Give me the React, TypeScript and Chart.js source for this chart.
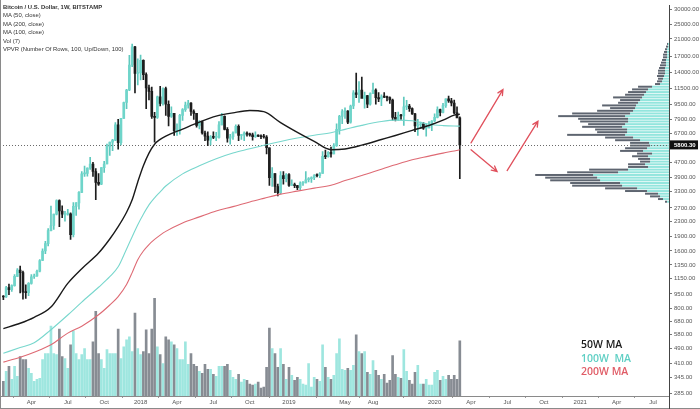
import React, { useEffect, useRef } from 'react';
import { Chart, registerables } from 'chart.js';

Chart.register(...registerables);

// Weekly candles, week 0 = 23 Jan 2017 ... week 163 = 9 Mar 2020 (Bitstamp, BTC/USD)
const opens = [
  920, 915, 1025, 1000, 1050, 1175, 1270, 1230, 970, 965,
  1080, 1170, 1180, 1250, 1425, 1600, 1750, 2050, 2180, 2500,
  2950, 2600, 2480, 2500, 2510, 1950, 2750, 2870, 3260, 4080,
  4100, 4380, 4600, 4200, 3680, 3600, 4400, 4600, 5700, 6000,
  6150, 7400, 5950, 8000, 9700, 11300, 15300, 19100, 13800, 13880,
  16200, 13600, 11600, 11100, 8200, 8100, 10400, 9600, 11500, 9500,
  8200, 8500, 6900, 7000, 8300, 8900, 9400, 9650, 8700, 8500,
  7350, 7700, 6700, 6450, 6150, 6400, 6350, 6350, 7400, 8200,
  7000, 6300, 6400, 6700, 7270, 6500, 6520, 6700, 6600, 6550,
  6400, 6500, 6450, 6400, 6380, 5600, 3900, 4100, 3500, 3250,
  4000, 3850, 4050, 3550, 3560, 3540, 3450, 3650, 3660, 3800,
  3850, 3900, 4000, 3990, 4100, 5050, 5030, 5300, 5200, 5750,
  7000, 8200, 8700, 8750, 7650, 9300, 10900, 10700, 11300, 10200,
  10550, 9500, 10800, 11300, 10300, 10150, 10400, 10350, 10300, 10000,
  8100, 7900, 8300, 8250, 9200, 9300, 9000, 8450, 7300, 7400,
  7500, 7100, 7150, 7400, 7750, 8100, 8900, 8600, 9350, 10150,
  9900, 9650, 8550, 8050,
];
const highs = [
  930, 1040, 1070, 1060, 1200, 1290, 1330, 1255, 1060, 1090,
  1200, 1210, 1270, 1440, 1640, 1800, 2100, 2760, 2500, 2980,
  2980, 2770, 2590, 2650, 2540, 2880, 2880, 3290, 4190, 4480,
  4390, 4980, 4700, 4350, 4100, 4400, 4750, 5850, 6000, 6200,
  7600, 7900, 8000, 9750, 11400, 17200, 19700, 19200, 16500, 17250,
  16300, 13900, 12000, 11700, 8600, 10500, 11800, 11600, 11700, 9900,
  9200, 8500, 7500, 8400, 9000, 9750, 9950, 9700, 8880, 8500,
  7800, 7750, 6850, 6800, 6500, 6800, 6750, 7700, 8500, 8250,
  7150, 6600, 6800, 7400, 7400, 6600, 6800, 6800, 6700, 6700,
  6800, 6550, 6550, 6600, 6500, 5600, 4400, 4100, 3600, 4200,
  4200, 4100, 4100, 3800, 3650, 3550, 3700, 3720, 4200, 3900,
  3930, 4050, 4080, 4150, 5350, 5450, 5350, 5650, 5900, 7500,
  8300, 8900, 9100, 8800, 9400, 11200, 13880, 12500, 13200, 11000,
  10600, 10900, 12300, 11450, 10950, 10650, 10950, 10500, 10400, 10100,
  8600, 8650, 8400, 10350, 9950, 9500, 9100, 8500, 7900, 7650,
  7600, 7500, 7700, 7800, 8450, 9200, 8950, 9600, 10150, 10500,
  10200, 10000, 9200, 8150,
];
const lows = [
  885, 910, 940, 980, 1045, 1170, 960, 890, 900, 930,
  1070, 1145, 1175, 1240, 1420, 1550, 1700, 2040, 2080, 2480,
  2150, 2400, 2300, 2470, 1840, 1900, 2460, 2660, 3250, 3950,
  3970, 4300, 3950, 2980, 3550, 3580, 4150, 4600, 5100, 5400,
  6100, 5500, 5800, 8000, 9000, 11200, 15000, 10900, 12000, 12750,
  12800, 9000, 10000, 8000, 6000, 8000, 9300, 9400, 8300, 7300,
  8100, 6500, 6500, 6600, 7800, 8700, 9050, 8300, 7900, 7200,
  7050, 6600, 6100, 5750, 5800, 6250, 6100, 6300, 7400, 6950,
  6000, 5850, 6200, 6700, 6100, 6200, 6100, 6450, 6450, 6150,
  6350, 6400, 6250, 6300, 5200, 3550, 3500, 3250, 3120, 3200,
  3600, 3700, 3500, 3550, 3450, 3370, 3350, 3550, 3650, 3700,
  3680, 3800, 3930, 3900, 4100, 4900, 5000, 5000, 5200, 5700,
  6600, 7500, 8000, 7500, 7550, 9000, 10300, 9700, 10900, 9050,
  9100, 9400, 10800, 9500, 9800, 9350, 10300, 9900, 9600, 7800,
  7750, 7800, 7900, 7350, 8900, 8700, 8400, 6800, 6500, 7100,
  7000, 6450, 7100, 6900, 7700, 8050, 8250, 8550, 9150, 9700,
  9300, 8450, 8350, 3850,
];
const closes = [
  915, 1025, 1000, 1050, 1175, 1270, 1230, 970, 965, 1080,
  1170, 1180, 1250, 1425, 1600, 1750, 2050, 2180, 2500, 2950,
  2600, 2500, 2500, 2510, 1950, 2750, 2870, 3260, 4080, 4100,
  4380, 4600, 4200, 3680, 3600, 4400, 4600, 5700, 6000, 6150,
  7400, 5950, 8000, 9700, 11300, 15300, 19100, 13800, 13880, 16200,
  13600, 11600, 11100, 8200, 8100, 10400, 9600, 11500, 9500, 8200,
  8500, 6900, 7000, 8300, 8900, 9400, 9650, 8700, 8500, 7350,
  7700, 6700, 6450, 6150, 6400, 6350, 6350, 7400, 8200, 7000,
  6300, 6400, 6700, 7270, 6500, 6520, 6700, 6600, 6550, 6400,
  6500, 6450, 6400, 6380, 5600, 3900, 4100, 3500, 3250, 4000,
  3850, 4050, 3550, 3560, 3540, 3450, 3650, 3660, 3800, 3850,
  3900, 4000, 3990, 4100, 5050, 5030, 5300, 5200, 5750, 7000,
  8200, 8700, 8750, 7650, 9300, 10900, 10700, 11300, 10200, 10550,
  9500, 10800, 11300, 10300, 10150, 10400, 10350, 10300, 10000, 8100,
  7900, 8300, 8250, 9200, 9300, 9000, 8450, 7300, 7400, 7500,
  7100, 7150, 7400, 7750, 8100, 8900, 8600, 9350, 10150, 9900,
  9650, 8550, 8050, 5800.3,
];
const volumes = [
  15, 25, 30, 17, 30, 20, 40, 37, 37, 28,
  23, 15, 17, 18, 37, 43, 43, 71, 43, 42,
  68, 40, 38, 28, 52, 66, 43, 37, 42, 48,
  37, 37, 55, 86, 43, 37, 28, 47, 43, 43,
  43, 68, 38, 50, 57, 60, 45, 84, 48, 42,
  45, 67, 43, 68, 99, 50, 42, 33, 60, 57,
  55, 52, 48, 37, 37, 55, 32, 43, 32, 30,
  25, 23, 32, 27, 27, 22, 20, 30, 30, 30,
  32, 26, 19, 17, 22, 14, 17, 16, 12, 11,
  12, 14, 8, 9, 29, 69, 48, 43, 29, 48,
  32, 17, 29, 21, 16, 19, 17, 12, 11, 33,
  9, 19, 17, 15, 52, 29, 19, 17, 21, 43,
  58, 27, 26, 28, 26, 31, 62, 45, 43, 45,
  24, 22, 36, 26, 21, 17, 22, 13, 16, 41,
  22, 19, 18, 47, 25, 16, 12, 24, 31, 12,
  12, 17, 11, 11, 24, 26, 16, 20, 17, 21,
  17, 21, 17, 56,
];

// Moving averages (week index -> value)
const maWeeks = [0, 6, 11, 17, 23, 28, 34, 38, 41, 44, 46, 48, 50, 52, 54, 56, 58, 64, 70, 76, 82, 88, 93, 99, 105, 111, 117, 122, 128, 135, 140, 146, 152, 157, 161, 163];
const ma50 = [623, 665, 715, 810, 1080, 1290, 1560, 1850, 2150, 2560, 2980, 3700, 4500, 5250, 5850, 6200, 6450, 7030, 7650, 8220, 8560, 8800, 8680, 7600, 6750, 6050, 5470, 5520, 5780, 6190, 6500, 6920, 7340, 7830, 8320, 8414];
const ma100 = [462, 495, 525, 615, 735, 860, 1030, 1170, 1320, 1640, 1900, 2200, 2500, 2800, 3050, 3280, 3520, 4080, 4500, 4900, 5250, 5530, 5780, 6050, 6300, 6520, 6720, 7000, 7350, 7700, 7830, 7780, 7450, 7330, 7290, 7287];
const ma200 = [415, 440, 468, 512, 590, 642, 737, 830, 920, 1065, 1230, 1440, 1600, 1730, 1840, 1940, 2030, 2250, 2420, 2600, 2740, 2900, 3030, 3190, 3310, 3430, 3555, 3760, 4000, 4320, 4560, 4840, 5060, 5250, 5390, 5464];

// Volume profile rows (bottom -> top), up / down volume
const vpUp = [
  2, 6, 9, 11, 22, 32, 47, 49, 69, 72,
  76, 51, 41, 21, 24, 19, 19, 21, 17, 26,
  22, 19, 20, 29, 36, 44, 42, 42, 47, 44,
  41, 41, 44, 39, 36, 34, 33, 31, 29, 27,
  25, 23, 21, 17, 9, 7, 6, 5, 4, 4,
  4, 3, 3, 3, 2, 2, 2, 2, 1, 1,
];
const vpDown = [
  2, 5, 10, 13, 22, 32, 50, 50, 50, 52,
  58, 51, 39, 20, 17, 10, 12, 16, 15, 23,
  22, 20, 19, 25, 28, 58, 30, 32, 40, 37,
  48, 50, 67, 58, 36, 25, 34, 20, 20, 29,
  19, 18, 16, 14, 5, 5, 5, 7, 7, 7,
  6, 6, 5, 4, 4, 4, 3, 2, 2, 1,
];
const vpLow = 2850;
const vpHigh = 20000;

const priceTicks = [30000, 25000, 21000, 17000, 14000, 11500, 9500, 7900, 6700, 4700, 3900, 3300, 2700, 2300, 1900, 1600, 1350, 1150, 950, 800, 680, 580, 490, 410, 345, 285];
const xTickWeeks = [10, 23, 36, 49, 62, 75, 88, 102, 122, 132, 154, 167, 180, 193, 206, 219, 232];
const xTickLabels = ['Apr', 'Jul', 'Oct', '2018', 'Apr', 'Jul', 'Oct', '2019', 'May', 'Aug', '2020', 'Apr', 'Jul', 'Oct', '2021', 'Apr', 'Jul'];
const lastPrice = 5800.3;

// Hand-drawn arrows (week, price)
const arrowFromWeek = [167, 167, 179.9];
const arrowFromPrice = [5943, 5464, 4248];
const arrowToWeek = [178.4, 176.3, 190.9];
const arrowToPrice = [11355, 4198, 7737];

const legendTop = ['Bitcoin / U.S. Dollar, 1W, BITSTAMP', 'MA (50, close)', 'MA (200, close)', 'MA (100, close)', 'Vol (7)', 'VPVR (Number Of Rows, 100, Up/Down, 100)'];

const UP = '#6fd5ca';
const DOWN = '#1d1d1d';
const VOL_UP = 'rgba(126, 222, 212, 0.75)';
const VOL_DOWN = '#878c93';
const VP_UP = 'rgba(120, 222, 212, 0.8)';
const VP_DOWN = 'rgba(72, 80, 92, 0.88)';
const RED = '#e0505c';

export default function App() {
  const ref = useRef<HTMLCanvasElement>(null);

  useEffect(() => {
    const canvas = ref.current;
    if (!canvas) return;
    const isUp = closes.map((c, i) => c >= opens[i]);
    const maxVol = Math.max(...volumes);

    const overlay = {
      id: 'overlay',
      beforeDatasetsDraw(chart: any) {
        const { ctx, chartArea, scales } = chart;
        const y = scales.y;
        const n = vpUp.length;
        const lr = Math.log(vpHigh / vpLow);
        const maxTot = Math.max(...vpUp.map((u, i) => u + vpDown[i]));
        const fullW = (chartArea.right - chartArea.left) * 0.2;
        ctx.save();
        for (let k = 0; k < n; k++) {
          const pLo = vpLow * Math.exp((lr * k) / n);
          const pHi = vpLow * Math.exp((lr * (k + 1)) / n);
          const yTop = y.getPixelForValue(pHi);
          const yBot = y.getPixelForValue(pLo);
          const h = Math.max(0.6, yBot - yTop - 0.7);
          const wu = (vpUp[k] / maxTot) * fullW;
          const wd = (vpDown[k] / maxTot) * fullW;
          ctx.fillStyle = VP_UP;
          ctx.fillRect(chartArea.right - wu, yTop, wu, h);
          ctx.fillStyle = VP_DOWN;
          ctx.fillRect(chartArea.right - wu - wd, yTop, wd, h);
        }
        const yl = Math.round(y.getPixelForValue(lastPrice)) + 0.5;
        ctx.strokeStyle = '#6a6a6a';
        ctx.lineWidth = 1;
        ctx.setLineDash([1, 2]);
        ctx.beginPath();
        ctx.moveTo(chartArea.left, yl);
        ctx.lineTo(chartArea.right, yl);
        ctx.stroke();
        ctx.restore();
      },
      afterDatasetsDraw(chart: any) {
        const { ctx, scales } = chart;
        ctx.save();
        ctx.strokeStyle = RED;
        ctx.lineWidth = 1.3;
        ctx.lineCap = 'round';
        for (let i = 0; i < arrowFromWeek.length; i++) {
          const x1 = scales.x.getPixelForValue(arrowFromWeek[i]);
          const y1 = scales.y.getPixelForValue(arrowFromPrice[i]);
          const x2 = scales.x.getPixelForValue(arrowToWeek[i]);
          const y2 = scales.y.getPixelForValue(arrowToPrice[i]);
          const a = Math.atan2(y2 - y1, x2 - x1);
          const L = 6;
          ctx.beginPath();
          ctx.moveTo(x1, y1);
          ctx.lineTo(x2, y2);
          ctx.moveTo(x2 - L * Math.cos(a - 0.45), y2 - L * Math.sin(a - 0.45));
          ctx.lineTo(x2, y2);
          ctx.lineTo(x2 - L * Math.cos(a + 0.45), y2 - L * Math.sin(a + 0.45));
          ctx.stroke();
        }
        ctx.restore();
      },
      afterDraw(chart: any) {
        const { ctx, chartArea, scales } = chart;
        ctx.save();
        ctx.strokeStyle = '#8a8a8a';
        ctx.lineWidth = 1;
        ctx.beginPath();
        ctx.moveTo(0.5, 0);
        ctx.lineTo(0.5, chart.height);
        ctx.moveTo(0, chart.height - 0.5);
        ctx.lineTo(chart.width, chart.height - 0.5);
        ctx.stroke();
        ctx.strokeStyle = '#444';
        ctx.beginPath();
        ctx.moveTo(Math.round(chartArea.right) + 0.5, chartArea.bottom);
        ctx.lineTo(Math.round(chartArea.right) + 0.5, chart.height);
        ctx.stroke();
        const yl = scales.y.getPixelForValue(lastPrice);
        ctx.fillStyle = '#111';
        ctx.fillRect(chartArea.right + 1, yl - 4.5, 28, 9);
        ctx.fillStyle = '#fff';
        ctx.font = 'bold 6px "Liberation Sans", Arial, sans-serif';
        ctx.textBaseline = 'middle';
        ctx.textAlign = 'left';
        ctx.fillText(lastPrice.toFixed(2), chartArea.right + 5, yl + 0.5);
        ctx.restore();
      },
    };

    const lineDs = (label: string, vals: number[], color: string, w: number) => ({
      type: 'line',
      label,
      data: maWeeks.map((wk, i) => ({ x: wk, y: vals[i] })),
      borderColor: color,
      borderWidth: w,
      pointRadius: 0,
      cubicInterpolationMode: 'monotone',
      yAxisID: 'y',
      order: 1,
    });

    const chart = new Chart(canvas, {
      type: 'bar',
      data: {
        datasets: [
          lineDs('MA 50', ma50, '#1a1a1a', 1.4),
          lineDs('MA 100', ma100, '#78d7cd', 1.1),
          lineDs('MA 200', ma200, '#de6a74', 1.1),
          {
            type: 'bar',
            label: 'body',
            data: opens.map((o, i) => ({ x: i, y: [o, closes[i]] })),
            backgroundColor: isUp.map((u) => (u ? UP : DOWN)),
            barThickness: 2,
            minBarLength: 1,
            grouped: false,
            yAxisID: 'y',
            order: 2,
          },
          {
            type: 'bar',
            label: 'wick',
            data: lows.map((l, i) => ({ x: i, y: [l, highs[i]] })),
            backgroundColor: isUp.map((u) => (u ? '#5fc9be' : DOWN)),
            barThickness: 1,
            grouped: false,
            yAxisID: 'y',
            order: 3,
          },
          {
            type: 'bar',
            label: 'volume',
            data: volumes.map((v, i) => ({ x: i, y: v })),
            backgroundColor: isUp.map((u) => (u ? VOL_UP : VOL_DOWN)),
            barThickness: 2,
            grouped: false,
            yAxisID: 'vol',
            order: 4,
          },
        ] as any,
      },
      options: {
        animation: false,
        responsive: false,
        devicePixelRatio: 1,
        layout: { padding: 0 },
        plugins: { legend: { display: false }, tooltip: { enabled: false } },
        scales: {
          x: {
            type: 'linear',
            min: -1.2,
            max: 237.7,
            offset: false,
            grid: { drawOnChartArea: false, drawTicks: true, tickLength: 2, color: '#999' },
            border: { color: '#8a8a8a' },
            ticks: {
              autoSkip: false,
              maxRotation: 0,
              padding: 1,
              color: '#555',
              font: { size: 6, family: '"Liberation Sans", Arial, sans-serif' },
              callback: (_v: any, i: number) => xTickLabels[i],
            },
            afterBuildTicks: (s: any) => {
              s.ticks = xTickWeeks.map((v) => ({ value: v }));
            },
            afterFit: (s: any) => {
              s.height = 13;
            },
          },
          y: {
            type: 'logarithmic',
            position: 'right',
            min: 275,
            max: 31470,
            grid: { drawOnChartArea: false, drawTicks: true, tickLength: 3, color: '#777' },
            border: { color: '#444' },
            ticks: {
              autoSkip: false,
              padding: 2,
              color: '#555',
              font: { size: 6, family: '"Liberation Sans", Arial, sans-serif' },
              callback: (v: any) => Number(v).toFixed(2),
            },
            afterBuildTicks: (s: any) => {
              s.ticks = priceTicks.map((v) => ({ value: v }));
            },
            afterFit: (s: any) => {
              s.width = 31;
            },
          },
          vol: {
            type: 'linear',
            display: false,
            min: 0,
            max: maxVol * 4,
          },
        },
      } as any,
      plugins: [overlay],
    });

    return () => chart.destroy();
  }, []);

  return (
    <div style={{ position: 'fixed', left: 0, top: 0, width: 700, height: 409, background: '#fff', overflow: 'hidden' }}>
      <canvas ref={ref} width={700} height={409} style={{ display: 'block' }} />
      <div
        style={{
          position: 'absolute',
          left: 3,
          top: 2.5,
          fontFamily: '"Liberation Sans", Arial, sans-serif',
          fontSize: 5.9,
          lineHeight: '8.5px',
          color: '#333',
          whiteSpace: 'pre',
        }}
      >
        {legendTop.map((t, i) => (
          <div key={i} style={{ fontWeight: i === 0 ? 700 : 400 }}>
            {t}
          </div>
        ))}
      </div>
      <div
        style={{
          position: 'absolute',
          left: 581,
          top: 338,
          fontFamily: '"Open Sans", "Noto Sans", sans-serif',
          fontSize: 10.5,
          fontWeight: 600,
          lineHeight: '13.5px',
          whiteSpace: 'pre',
        }}
      >
        <div style={{ color: '#1a1a1a' }}>50W MA</div>
        <div style={{ color: '#5fcfc4' }}>100W  MA</div>
        <div style={{ color: '#e05c66' }}>200W MA</div>
      </div>
    </div>
  );
}
